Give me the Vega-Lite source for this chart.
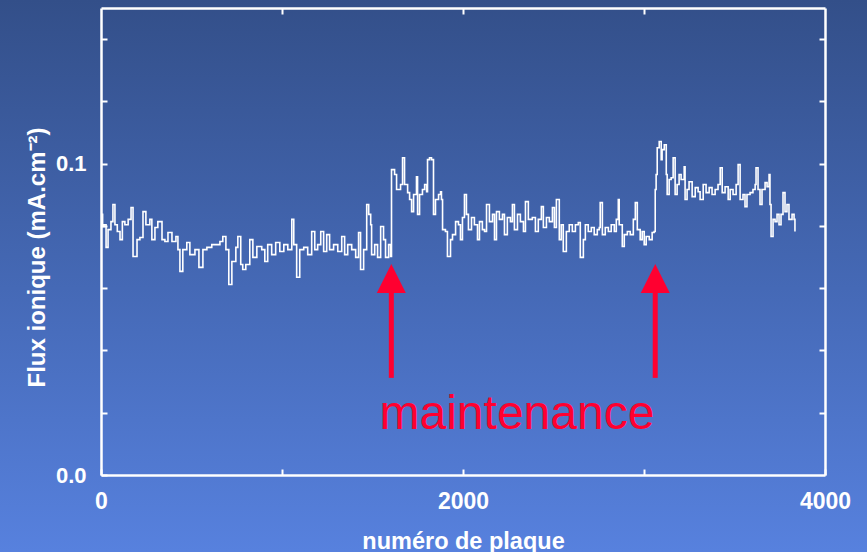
{
  "$schema": "https://vega.github.io/schema/vega-lite/v6.json",
  "width": 724,
  "height": 467,
  "autosize": "none",
  "padding": {"left": 101, "top": 8, "right": 42, "bottom": 77},
  "background": "#4568b0",
  "config": {
    "view": {"stroke": null},
    "axis": {
      "zindex": 1,
      "domainColor": "white",
      "domainWidth": 2.5,
      "tickColor": "white",
      "tickWidth": 2,
      "tickSize": -6,
      "grid": false,
      "labelColor": "white",
      "labelFont": "Liberation Sans",
      "labelFontWeight": "bold",
      "titleColor": "white",
      "titleFont": "Liberation Sans",
      "titleFontWeight": "bold",
      "labelOverlap": false,
      "labelFlush": false
    }
  },
  "datasets": {
    "bg": [{"xa": -700, "xb": 4500, "ya": -0.04, "yb": 0.16}],
    "flux": [
      {"plaque": 0, "flux": 0.0837}, {"plaque": 9, "flux": 0.0798}, {"plaque": 17, "flux": 0.0804}, {"plaque": 28, "flux": 0.0731},
      {"plaque": 39, "flux": 0.0788}, {"plaque": 55, "flux": 0.0814}, {"plaque": 66, "flux": 0.0869}, {"plaque": 77, "flux": 0.0804},
      {"plaque": 90, "flux": 0.0782}, {"plaque": 105, "flux": 0.0756}, {"plaque": 118, "flux": 0.0814}, {"plaque": 132, "flux": 0.0804},
      {"plaque": 150, "flux": 0.0821}, {"plaque": 166, "flux": 0.0859}, {"plaque": 177, "flux": 0.0702}, {"plaque": 199, "flux": 0.0756},
      {"plaque": 215, "flux": 0.0763}, {"plaque": 232, "flux": 0.0846}, {"plaque": 248, "flux": 0.0804}, {"plaque": 270, "flux": 0.0821},
      {"plaque": 281, "flux": 0.0756}, {"plaque": 298, "flux": 0.0795}, {"plaque": 314, "flux": 0.0814}, {"plaque": 337, "flux": 0.0756},
      {"plaque": 353, "flux": 0.0750}, {"plaque": 370, "flux": 0.0779}, {"plaque": 392, "flux": 0.0750}, {"plaque": 414, "flux": 0.0766},
      {"plaque": 425, "flux": 0.0724}, {"plaque": 436, "flux": 0.0654}, {"plaque": 452, "flux": 0.0724}, {"plaque": 474, "flux": 0.0747},
      {"plaque": 491, "flux": 0.0708}, {"plaque": 519, "flux": 0.0724}, {"plaque": 541, "flux": 0.0667}, {"plaque": 563, "flux": 0.0724},
      {"plaque": 585, "flux": 0.0731}, {"plaque": 612, "flux": 0.0740}, {"plaque": 629, "flux": 0.0740}, {"plaque": 657, "flux": 0.0750},
      {"plaque": 673, "flux": 0.0766}, {"plaque": 690, "flux": 0.0724}, {"plaque": 706, "flux": 0.0612}, {"plaque": 723, "flux": 0.0686},
      {"plaque": 745, "flux": 0.0731}, {"plaque": 756, "flux": 0.0766}, {"plaque": 772, "flux": 0.0676}, {"plaque": 783, "flux": 0.0660},
      {"plaque": 800, "flux": 0.0676}, {"plaque": 822, "flux": 0.0756}, {"plaque": 839, "flux": 0.0699}, {"plaque": 861, "flux": 0.0734},
      {"plaque": 888, "flux": 0.0724}, {"plaque": 905, "flux": 0.0686}, {"plaque": 921, "flux": 0.0740}, {"plaque": 943, "flux": 0.0708},
      {"plaque": 965, "flux": 0.0747}, {"plaque": 988, "flux": 0.0718}, {"plaque": 1010, "flux": 0.0740}, {"plaque": 1032, "flux": 0.0724},
      {"plaque": 1054, "flux": 0.0821}, {"plaque": 1065, "flux": 0.0740}, {"plaque": 1081, "flux": 0.0635}, {"plaque": 1098, "flux": 0.0724},
      {"plaque": 1120, "flux": 0.0731}, {"plaque": 1142, "flux": 0.0708}, {"plaque": 1164, "flux": 0.0782}, {"plaque": 1181, "flux": 0.0724},
      {"plaque": 1197, "flux": 0.0740}, {"plaque": 1214, "flux": 0.0782}, {"plaque": 1230, "flux": 0.0718}, {"plaque": 1247, "flux": 0.0772},
      {"plaque": 1263, "flux": 0.0724}, {"plaque": 1285, "flux": 0.0740}, {"plaque": 1308, "flux": 0.0718}, {"plaque": 1330, "flux": 0.0766},
      {"plaque": 1346, "flux": 0.0708}, {"plaque": 1363, "flux": 0.0740}, {"plaque": 1385, "flux": 0.0724}, {"plaque": 1407, "flux": 0.0699},
      {"plaque": 1423, "flux": 0.0779}, {"plaque": 1434, "flux": 0.0660}, {"plaque": 1451, "flux": 0.0724}, {"plaque": 1468, "flux": 0.0869},
      {"plaque": 1479, "flux": 0.0837}, {"plaque": 1490, "flux": 0.0804}, {"plaque": 1495, "flux": 0.0708}, {"plaque": 1512, "flux": 0.0740},
      {"plaque": 1528, "flux": 0.0699}, {"plaque": 1545, "flux": 0.0798}, {"plaque": 1561, "flux": 0.0756}, {"plaque": 1572, "flux": 0.0699},
      {"plaque": 1589, "flux": 0.0740}, {"plaque": 1600, "flux": 0.0702}, {"plaque": 1605, "flux": 0.0981}, {"plaque": 1622, "flux": 0.0965},
      {"plaque": 1633, "flux": 0.0917}, {"plaque": 1644, "flux": 0.0917}, {"plaque": 1655, "flux": 0.0933}, {"plaque": 1666, "flux": 0.1019},
      {"plaque": 1677, "flux": 0.0933}, {"plaque": 1694, "flux": 0.0907}, {"plaque": 1705, "flux": 0.0885}, {"plaque": 1716, "flux": 0.0846},
      {"plaque": 1727, "flux": 0.0901}, {"plaque": 1743, "flux": 0.0958}, {"plaque": 1749, "flux": 0.0837}, {"plaque": 1760, "flux": 0.0901},
      {"plaque": 1776, "flux": 0.0917}, {"plaque": 1788, "flux": 0.0933}, {"plaque": 1799, "flux": 0.0910}, {"plaque": 1804, "flux": 0.1013},
      {"plaque": 1815, "flux": 0.1019}, {"plaque": 1826, "flux": 0.1013}, {"plaque": 1837, "flux": 0.0837}, {"plaque": 1848, "flux": 0.0885},
      {"plaque": 1865, "flux": 0.0901}, {"plaque": 1876, "flux": 0.0910}, {"plaque": 1881, "flux": 0.0885}, {"plaque": 1887, "flux": 0.0788},
      {"plaque": 1903, "flux": 0.0782}, {"plaque": 1914, "flux": 0.0702}, {"plaque": 1931, "flux": 0.0756}, {"plaque": 1942, "flux": 0.0772},
      {"plaque": 1959, "flux": 0.0814}, {"plaque": 1975, "flux": 0.0804}, {"plaque": 1986, "flux": 0.0756}, {"plaque": 1997, "flux": 0.0827},
      {"plaque": 2008, "flux": 0.0901}, {"plaque": 2019, "flux": 0.0837}, {"plaque": 2030, "flux": 0.0788}, {"plaque": 2047, "flux": 0.0827},
      {"plaque": 2063, "flux": 0.0804}, {"plaque": 2080, "flux": 0.0756}, {"plaque": 2091, "flux": 0.0814}, {"plaque": 2107, "flux": 0.0788},
      {"plaque": 2119, "flux": 0.0782}, {"plaque": 2130, "flux": 0.0869}, {"plaque": 2146, "flux": 0.0814}, {"plaque": 2163, "flux": 0.0837},
      {"plaque": 2174, "flux": 0.0756}, {"plaque": 2185, "flux": 0.0846}, {"plaque": 2201, "flux": 0.0821}, {"plaque": 2218, "flux": 0.0837},
      {"plaque": 2229, "flux": 0.0772}, {"plaque": 2245, "flux": 0.0827}, {"plaque": 2262, "flux": 0.0814}, {"plaque": 2273, "flux": 0.0869},
      {"plaque": 2284, "flux": 0.0788}, {"plaque": 2301, "flux": 0.0837}, {"plaque": 2317, "flux": 0.0814}, {"plaque": 2334, "flux": 0.0782},
      {"plaque": 2345, "flux": 0.0878}, {"plaque": 2361, "flux": 0.0821}, {"plaque": 2383, "flux": 0.0827}, {"plaque": 2400, "flux": 0.0782},
      {"plaque": 2416, "flux": 0.0821}, {"plaque": 2433, "flux": 0.0862}, {"plaque": 2444, "flux": 0.0795}, {"plaque": 2461, "flux": 0.0827},
      {"plaque": 2477, "flux": 0.0814}, {"plaque": 2494, "flux": 0.0859}, {"plaque": 2505, "flux": 0.0795}, {"plaque": 2516, "flux": 0.0885},
      {"plaque": 2532, "flux": 0.0756}, {"plaque": 2543, "flux": 0.0804}, {"plaque": 2554, "flux": 0.0718}, {"plaque": 2571, "flux": 0.0782},
      {"plaque": 2587, "flux": 0.0804}, {"plaque": 2604, "flux": 0.0782}, {"plaque": 2621, "flux": 0.0804}, {"plaque": 2637, "flux": 0.0811},
      {"plaque": 2648, "flux": 0.0699}, {"plaque": 2665, "flux": 0.0756}, {"plaque": 2676, "flux": 0.0804}, {"plaque": 2692, "flux": 0.0782},
      {"plaque": 2709, "flux": 0.0795}, {"plaque": 2725, "flux": 0.0772}, {"plaque": 2742, "flux": 0.0788}, {"plaque": 2753, "flux": 0.0795},
      {"plaque": 2758, "flux": 0.0875}, {"plaque": 2770, "flux": 0.0772}, {"plaque": 2786, "flux": 0.0795}, {"plaque": 2803, "flux": 0.0782},
      {"plaque": 2819, "flux": 0.0804}, {"plaque": 2836, "flux": 0.0782}, {"plaque": 2847, "flux": 0.0821}, {"plaque": 2858, "flux": 0.0885},
      {"plaque": 2863, "flux": 0.0804}, {"plaque": 2880, "flux": 0.0734}, {"plaque": 2891, "flux": 0.0772}, {"plaque": 2908, "flux": 0.0782},
      {"plaque": 2924, "flux": 0.0772}, {"plaque": 2941, "flux": 0.0821}, {"plaque": 2952, "flux": 0.0875}, {"plaque": 2963, "flux": 0.0788},
      {"plaque": 2979, "flux": 0.0756}, {"plaque": 2990, "flux": 0.0782}, {"plaque": 3001, "flux": 0.0740}, {"plaque": 3012, "flux": 0.0766},
      {"plaque": 3029, "flux": 0.0756}, {"plaque": 3045, "flux": 0.0779}, {"plaque": 3056, "flux": 0.0782}, {"plaque": 3062, "flux": 0.0917},
      {"plaque": 3067, "flux": 0.0965}, {"plaque": 3073, "flux": 0.1051}, {"plaque": 3084, "flux": 0.1071}, {"plaque": 3095, "flux": 0.1013},
      {"plaque": 3100, "flux": 0.1045}, {"plaque": 3112, "flux": 0.1061}, {"plaque": 3123, "flux": 0.0965}, {"plaque": 3128, "flux": 0.0901},
      {"plaque": 3139, "flux": 0.0949}, {"plaque": 3150, "flux": 0.0955}, {"plaque": 3161, "flux": 0.1019}, {"plaque": 3172, "flux": 0.0901},
      {"plaque": 3183, "flux": 0.0933}, {"plaque": 3194, "flux": 0.0965}, {"plaque": 3205, "flux": 0.0949}, {"plaque": 3222, "flux": 0.0990},
      {"plaque": 3227, "flux": 0.0885}, {"plaque": 3238, "flux": 0.0917}, {"plaque": 3249, "flux": 0.0942}, {"plaque": 3266, "flux": 0.0894},
      {"plaque": 3283, "flux": 0.0923}, {"plaque": 3299, "flux": 0.0910}, {"plaque": 3310, "flux": 0.0885}, {"plaque": 3327, "flux": 0.0933},
      {"plaque": 3343, "flux": 0.0907}, {"plaque": 3360, "flux": 0.0923}, {"plaque": 3376, "flux": 0.0901}, {"plaque": 3393, "flux": 0.0917},
      {"plaque": 3409, "flux": 0.0933}, {"plaque": 3421, "flux": 0.0987}, {"plaque": 3432, "flux": 0.0907}, {"plaque": 3448, "flux": 0.0926},
      {"plaque": 3465, "flux": 0.0885}, {"plaque": 3476, "flux": 0.0917}, {"plaque": 3492, "flux": 0.0901}, {"plaque": 3509, "flux": 0.0933},
      {"plaque": 3520, "flux": 0.0997}, {"plaque": 3531, "flux": 0.0885}, {"plaque": 3547, "flux": 0.0901}, {"plaque": 3558, "flux": 0.0862},
      {"plaque": 3569, "flux": 0.0901}, {"plaque": 3586, "flux": 0.0907}, {"plaque": 3602, "flux": 0.0917}, {"plaque": 3614, "flux": 0.0933},
      {"plaque": 3619, "flux": 0.0987}, {"plaque": 3630, "flux": 0.0917}, {"plaque": 3641, "flux": 0.0869}, {"plaque": 3652, "flux": 0.0917},
      {"plaque": 3669, "flux": 0.0939}, {"plaque": 3680, "flux": 0.0926}, {"plaque": 3691, "flux": 0.0965}, {"plaque": 3696, "flux": 0.0869},
      {"plaque": 3702, "flux": 0.0766}, {"plaque": 3713, "flux": 0.0821}, {"plaque": 3724, "flux": 0.0814}, {"plaque": 3735, "flux": 0.0837},
      {"plaque": 3746, "flux": 0.0804}, {"plaque": 3757, "flux": 0.0837}, {"plaque": 3768, "flux": 0.0907}, {"plaque": 3779, "flux": 0.0846},
      {"plaque": 3790, "flux": 0.0869}, {"plaque": 3801, "flux": 0.0821}, {"plaque": 3818, "flux": 0.0837}, {"plaque": 3829, "flux": 0.0821},
      {"plaque": 3834, "flux": 0.0782}
    ],
    "arrows": [
      {"plaque": 1604, "tip": 0.0631, "base": 0.0312, "top": 0.0595},
      {"plaque": 3062, "tip": 0.0631, "base": 0.0312, "top": 0.0595}
    ],
    "note": [{"plaque": 2298, "flux": 0.0148, "text": "maintenance"}]
  },
  "resolve": {"axis": {"x": "independent", "y": "independent"}},
  "layer": [
    {
      "data": {"name": "bg"},
      "mark": {
        "type": "rect",
        "clip": false,
        "fill": {
          "gradient": "linear",
          "x1": 0, "y1": 0, "x2": 0, "y2": 1,
          "stops": [
            {"offset": 0.037, "color": "#334f89"},
            {"offset": 0.5, "color": "#4569b6"},
            {"offset": 0.923, "color": "#5781de"}
          ]
        }
      },
      "encoding": {
        "x": {"field": "xa", "type": "quantitative", "scale": {"domain": [0, 4000], "nice": false, "zero": false}, "axis": null},
        "x2": {"field": "xb"},
        "y": {"field": "ya", "type": "quantitative", "scale": {"domain": [0, 0.15], "nice": false, "zero": false}, "axis": null},
        "y2": {"field": "yb"}
      }
    },
    {
      "data": {"name": "flux"},
      "mark": {"type": "line", "color": "white", "strokeWidth": 1.6, "interpolate": "step-after", "clip": true},
      "encoding": {
        "x": {"field": "plaque", "type": "quantitative", "scale": {"domain": [0, 4000], "nice": false, "zero": false},
              "axis": {"orient": "bottom", "zindex": 2, "values": [0, 1000, 2000, 3000, 4000], "format": "d",
                       "labelExpr": "datum.value % 2000 == 0 ? datum.label : ''",
                       "labelFontSize": 23, "labelPadding": 21,
                       "title": "numéro de plaque", "titleFontSize": 23.5, "titlePadding": 16}},
        "y": {"field": "flux", "type": "quantitative", "scale": {"domain": [0, 0.15], "nice": false, "zero": false},
              "axis": {"orient": "left", "zindex": 2, "values": [0, 0.02, 0.04, 0.06, 0.08, 0.1, 0.12, 0.14], "format": ".1f",
                       "labelExpr": "(datum.value == 0 || abs(datum.value - 0.1) < 0.000001) ? datum.label : ''",
                       "labelFontSize": 22, "labelPadding": 21,
                       "title": "Flux ionique (mA.cm⁻²)", "titleFontSize": 24, "titlePadding": 6, "titleY": 249}}
      }
    },
    {
      "data": {"name": "bg"},
      "mark": {"type": "rule", "opacity": 0},
      "encoding": {
        "x": {"field": "xa", "type": "quantitative",
              "axis": {"orient": "top", "zindex": 2, "values": [1000, 2000, 3000], "labels": false, "title": null}},
        "y": {"field": "ya", "type": "quantitative",
              "axis": {"orient": "right", "zindex": 2, "values": [0.02, 0.04, 0.06, 0.08, 0.1, 0.12, 0.14], "labels": false, "title": null}}
      }
    },
    {
      "data": {"name": "arrows"},
      "mark": {"type": "rule", "color": "#ff0030", "strokeWidth": 5},
      "encoding": {
        "x": {"field": "plaque", "type": "quantitative", "axis": null},
        "y": {"field": "base", "type": "quantitative", "axis": null},
        "y2": {"field": "top"}
      }
    },
    {
      "data": {"name": "arrows"},
      "mark": {"type": "point", "shape": "M0,-1L1,1L-1,1Z", "filled": true, "color": "#ff0030", "opacity": 1, "size": 841},
      "encoding": {
        "x": {"field": "plaque", "type": "quantitative", "axis": null},
        "y": {"field": "tip", "type": "quantitative", "axis": null}
      }
    },
    {
      "data": {"name": "note"},
      "mark": {"type": "text", "color": "#ff0030", "font": "Liberation Sans", "fontSize": 48, "align": "center", "baseline": "alphabetic"},
      "encoding": {
        "x": {"field": "plaque", "type": "quantitative", "axis": null},
        "y": {"field": "flux", "type": "quantitative", "axis": null},
        "text": {"field": "text"}
      }
    }
  ]
}
